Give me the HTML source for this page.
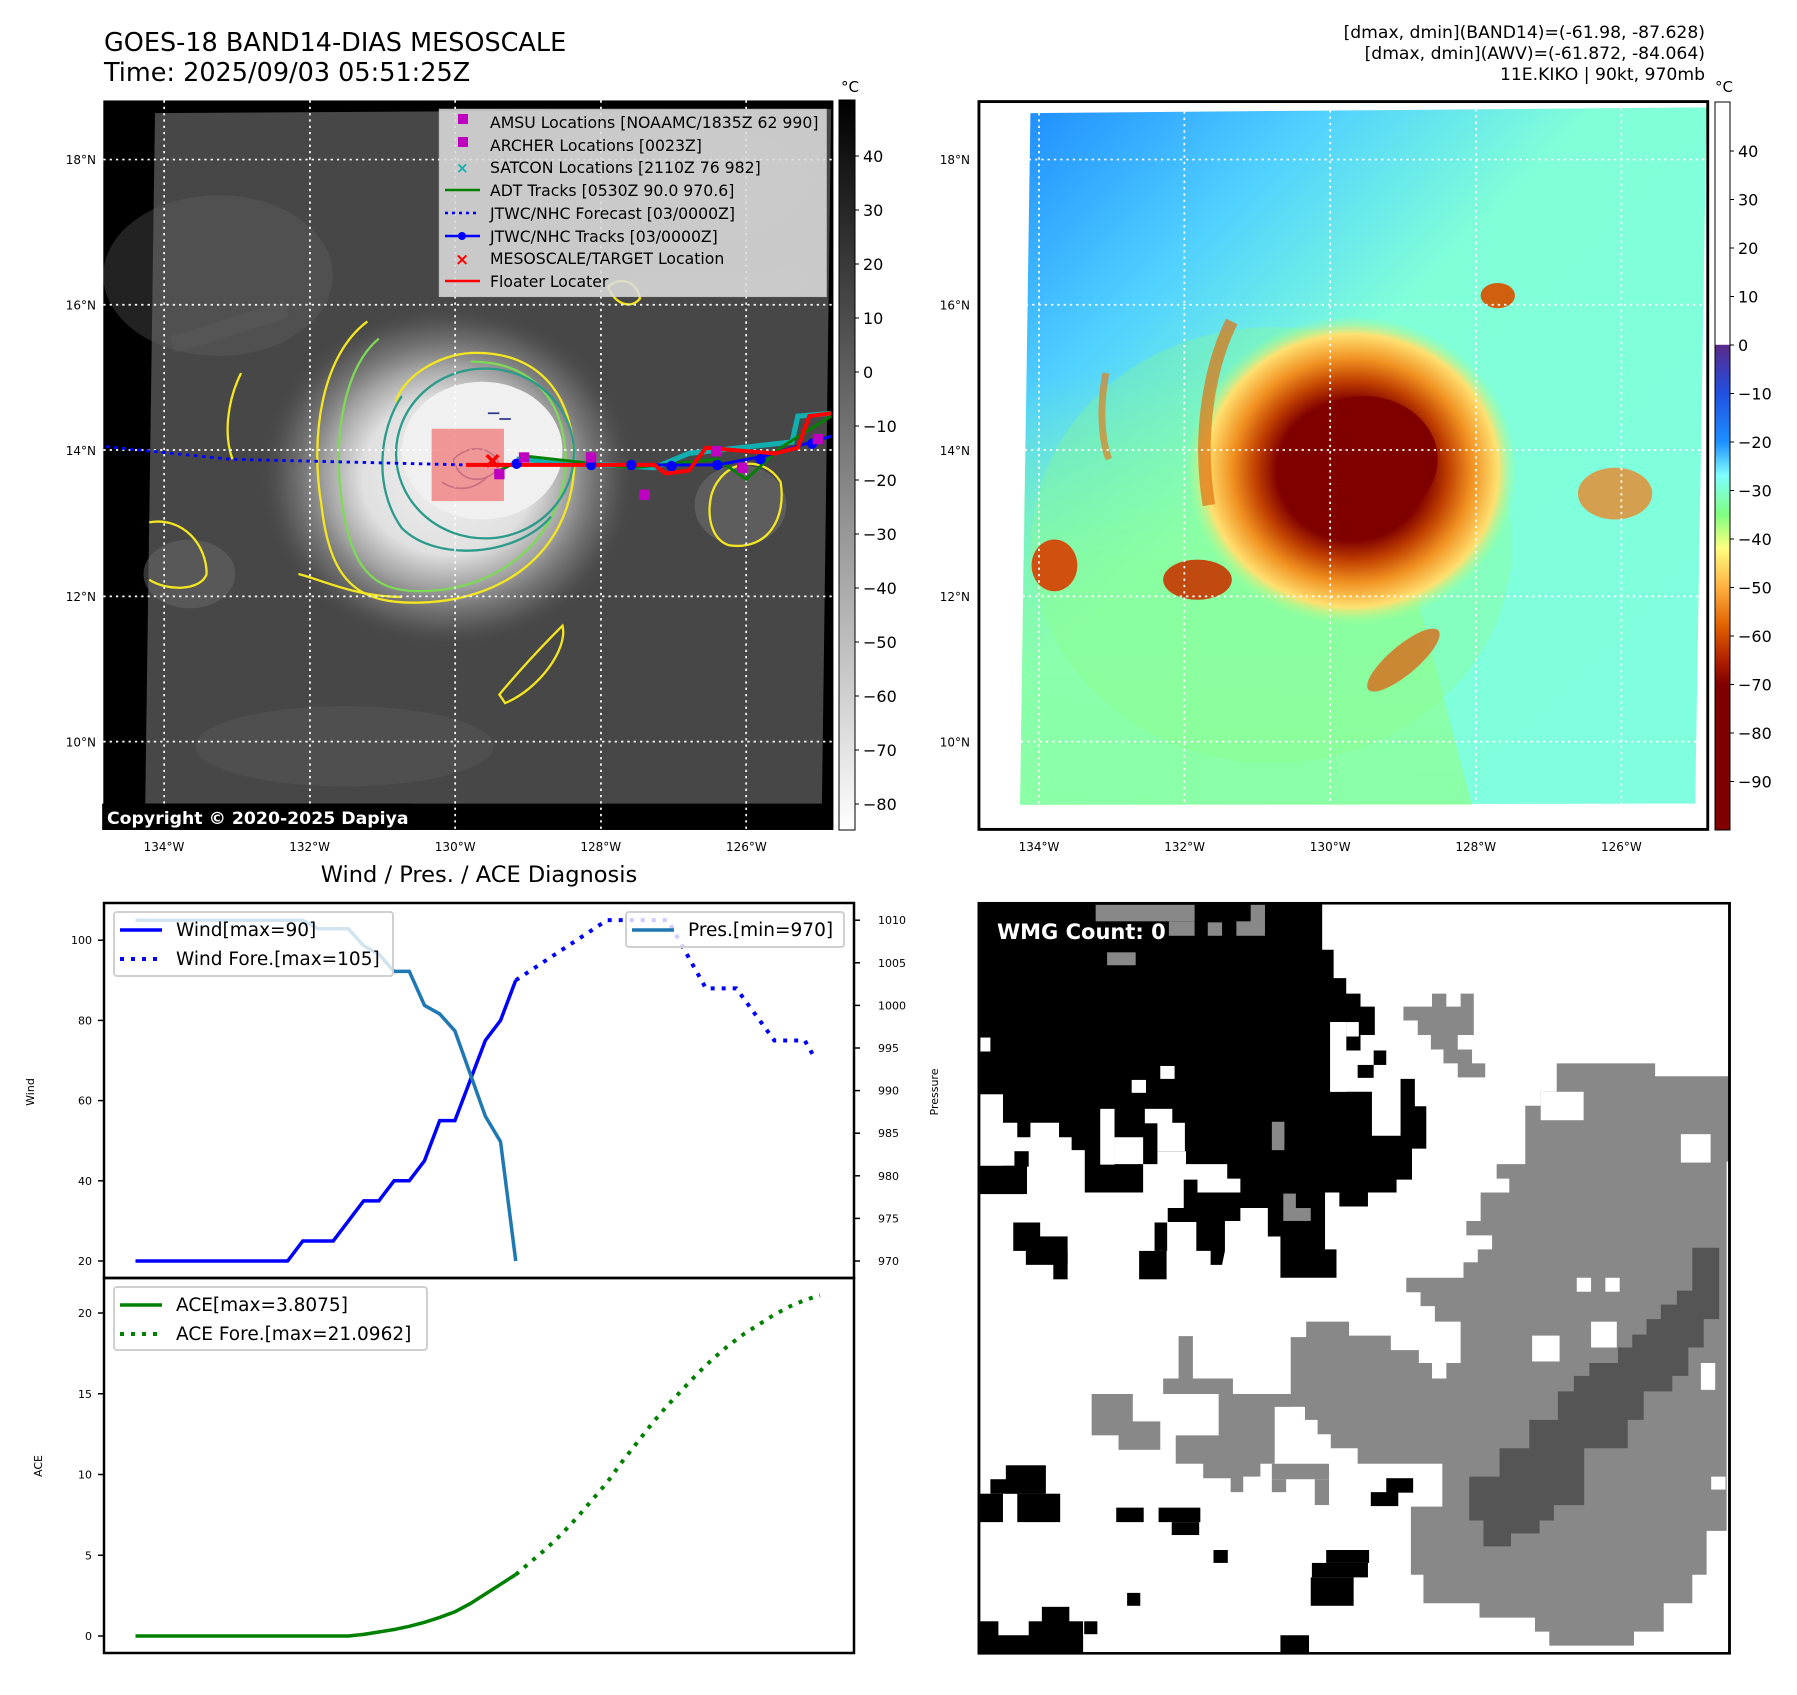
<!DOCTYPE html>
<html><head><meta charset="utf-8"><style>
html,body{margin:0;padding:0;background:#fff;}
svg text{font-family:"DejaVu Sans","Liberation Sans",sans-serif;}
</style></head><body>
<svg id="fig" width="1797" height="1690" viewBox="0 0 1797 1690" xmlns="http://www.w3.org/2000/svg">
<defs>
<linearGradient id="cb1" x1="0" y1="0" x2="0" y2="1"><stop offset="0" stop-color="#000"/><stop offset="1" stop-color="#fff"/></linearGradient>
<linearGradient id="cb2" x1="0" y1="0" x2="0" y2="1">
<stop offset="0" stop-color="#fff"/><stop offset="0.333" stop-color="#fff"/><stop offset="0.334" stop-color="#5a2a8a"/>
<stop offset="0.4" stop-color="#2050e0"/><stop offset="0.467" stop-color="#1e90ff"/><stop offset="0.513" stop-color="#7fffff"/>
<stop offset="0.567" stop-color="#80ff80"/><stop offset="0.613" stop-color="#ffff80"/><stop offset="0.667" stop-color="#ffb040"/>
<stop offset="0.72" stop-color="#e06000"/><stop offset="0.767" stop-color="#b02000"/><stop offset="0.8" stop-color="#800000"/><stop offset="1" stop-color="#800000"/>
</linearGradient>
<radialGradient id="stormGray" cx="0.5" cy="0.5" r="0.5"><stop offset="0" stop-color="#f0f0f0"/><stop offset="0.45" stop-color="#e0e0e0"/><stop offset="0.65" stop-color="#a0a0a0"/><stop offset="0.85" stop-color="#707070" stop-opacity="0.6"/><stop offset="1" stop-color="#4a4a4a" stop-opacity="0"/></radialGradient>
<linearGradient id="bg2" x1="0" y1="0" x2="1" y2="1"><stop offset="0" stop-color="#1e8cff"/><stop offset="0.22" stop-color="#50d0ff"/><stop offset="0.42" stop-color="#80ffd8"/><stop offset="1" stop-color="#80ffe0"/></linearGradient>
<linearGradient id="bg2b" x1="0" y1="0" x2="0" y2="1"><stop offset="0" stop-color="#90ff90" stop-opacity="0"/><stop offset="0.45" stop-color="#90ff90" stop-opacity="0.55"/><stop offset="1" stop-color="#90ff90" stop-opacity="0.7"/></linearGradient>
<radialGradient id="storm2" cx="0.5" cy="0.5" r="0.5"><stop offset="0" stop-color="#800000"/><stop offset="0.45" stop-color="#800000"/><stop offset="0.58" stop-color="#c04000"/><stop offset="0.72" stop-color="#f09020"/><stop offset="0.88" stop-color="#ffe070"/><stop offset="1" stop-color="#a0ff90" stop-opacity="0"/></radialGradient>
</defs>

<!-- ===== Map 1 (grayscale IR) ===== -->
<text x="104" y="51" font-size="25.5" fill="#000">GOES-18 BAND14-DIAS MESOSCALE</text>
<text x="104" y="81" font-size="25.5" fill="#000">Time: 2025/09/03 05:51:25Z</text>
<svg x="0" y="0" width="900" height="900" viewBox="0 0 1568 1568" preserveAspectRatio="none">
<rect x="180" y="175" width="1272" height="1271" fill="#000"/>
<polygon points="270,197 1448,190 1432,1400 253,1400" fill="#474747"/>
<ellipse cx="380" cy="480" rx="200" ry="140" fill="#606060" opacity="0.35"/>
<ellipse cx="1150" cy="320" rx="260" ry="110" fill="#5a5a5a" opacity="0.35"/>
<ellipse cx="330" cy="1000" rx="80" ry="60" fill="#6a6a6a" opacity="0.5"/>
<ellipse cx="1290" cy="880" rx="80" ry="70" fill="#707070" opacity="0.55"/>
<ellipse cx="780" cy="830" rx="330" ry="300" fill="url(#stormGray)"/>
<ellipse cx="840" cy="785" rx="140" ry="120" fill="#f0f0f0"/>
<ellipse cx="600" cy="1300" rx="260" ry="70" fill="#5c5c5c" opacity="0.4"/>
<path d="M300,600 C380,580 420,560 500,540" stroke="#5a5a5a" stroke-width="30" fill="none" opacity="0.5"/>
<path d="M1100,500 C1200,480 1300,520 1400,480" stroke="#585858" stroke-width="40" fill="none" opacity="0.5"/>
<g fill="none" stroke-width="4">
<path d="M640,560 C560,620 540,760 560,880 C575,1010 620,1050 720,1050 C880,1050 990,960 1000,820 C1005,690 940,610 820,615 C760,618 700,660 690,700" stroke="#f4e620"/>
<path d="M420,650 C395,700 390,760 405,800" stroke="#f4e620"/>
<path d="M260,910 C320,900 360,950 360,1000 C350,1030 290,1030 260,1010" stroke="#f4e620"/>
<path d="M870,1210 C920,1150 960,1110 980,1090 C990,1130 940,1200 880,1225 Z" stroke="#f4e620"/>
<path d="M1240,860 C1260,800 1330,790 1360,840 C1370,900 1340,960 1270,950 C1240,940 1230,900 1240,860 Z" stroke="#f4e620"/>
<path d="M1060,500 C1080,480 1110,490 1115,520 C1100,540 1070,530 1060,500 Z" stroke="#f4e620"/>
<path d="M520,1000 C560,1010 620,1040 700,1040" stroke="#f4e620"/>
<path d="M660,590 C600,640 580,760 595,870 C610,990 650,1030 730,1030 C860,1030 970,950 985,820 C990,700 930,630 820,630" stroke="#7ed957"/>
<ellipse cx="845" cy="790" rx="155" ry="148" stroke="#2a9a8a"/>
<path d="M700,690 C660,750 650,850 700,920 C760,980 900,970 960,900" stroke="#2a9a8a"/>
<path d="M790,800 C820,770 860,780 870,810 C860,840 800,850 790,800 Z" stroke="#2a3a8a" stroke-width="3"/>
<path d="M850,720 l20,0 M870,730 l20,0 M770,840 C800,860 830,850 850,830" stroke="#2a3a8a" stroke-width="3"/>
</g>
<g stroke="#fff" stroke-width="3" stroke-dasharray="4,7" fill="none">
<line x1="286" y1="175" x2="286" y2="1446"/><line x1="540" y1="175" x2="540" y2="1446"/><line x1="793" y1="175" x2="793" y2="1446"/><line x1="1047" y1="175" x2="1047" y2="1446"/><line x1="1300" y1="175" x2="1300" y2="1446"/>
<line x1="180" y1="278" x2="1452" y2="278"/><line x1="180" y1="531" x2="1452" y2="531"/><line x1="180" y1="784" x2="1452" y2="784"/><line x1="180" y1="1039" x2="1452" y2="1039"/><line x1="180" y1="1292" x2="1452" y2="1292"/>
</g>
<rect x="752" y="747" width="126" height="126" fill="#f08080" opacity="0.8"/>
<polyline points="185,778 400,800 812,810" fill="none" stroke="#0000ff" stroke-width="5" stroke-dasharray="6,8"/>
<polyline points="900,800 1140,815 1200,790 1380,770 1390,725 1448,720" fill="none" stroke="#10b0b0" stroke-width="9"/>
<polyline points="870,820 920,795 1100,815 1250,800 1300,835 1360,780 1448,725" fill="none" stroke="#008000" stroke-width="5"/>
<polyline points="870,810 1030,810 1250,810 1330,795 1448,760" fill="none" stroke="#0000ff" stroke-width="5"/>
<polyline points="812,810 1140,810 1160,825 1200,820 1230,780 1350,790 1390,780 1410,725 1448,720" fill="none" stroke="#ff0000" stroke-width="7"/>
<g fill="#0000ff"><circle cx="900" cy="808" r="9"/><circle cx="1030" cy="810" r="9"/><circle cx="1100" cy="810" r="9"/><circle cx="1170" cy="812" r="9"/><circle cx="1250" cy="810" r="9"/><circle cx="1325" cy="800" r="9"/><circle cx="1415" cy="773" r="9"/></g>
<g fill="#c000c0"><rect x="1021" y="788" width="18" height="18"/><rect x="1114" y="853" width="18" height="18"/><rect x="861" y="817" width="18" height="18"/><rect x="1239" y="777" width="18" height="18"/><rect x="1284" y="806" width="18" height="18"/><rect x="1416" y="756" width="18" height="18"/><rect x="904" y="788" width="18" height="18"/></g>
<path d="M848,793 l20,20 M868,793 l-20,20" stroke="#ff0000" stroke-width="6"/>
<rect x="765" y="190" width="675" height="327" fill="#dcdcdc" opacity="0.88" stroke="#ccc"/>
<rect x="178" y="1400" width="540" height="46" fill="#000"/>
</svg>
<g font-size="15.7" fill="#000">
<rect x="458" y="114" width="10" height="10" fill="#c000c0"/><text x="490" y="128">AMSU Locations [NOAAMC/1835Z 62 990]</text>
<rect x="458" y="137" width="10" height="10" fill="#c000c0"/><text x="490" y="151">ARCHER Locations [0023Z]</text>
<text x="456" y="173" fill="#10b0b0" font-size="15" font-weight="bold">×</text><text x="490" y="173">SATCON Locations [2110Z 76 982]</text>
<line x1="445" y1="190" x2="480" y2="190" stroke="#008000" stroke-width="2.5"/><text x="490" y="196">ADT Tracks [0530Z 90.0 970.6]</text>
<line x1="445" y1="213" x2="480" y2="213" stroke="#0000ff" stroke-width="2.5" stroke-dasharray="3,4"/><text x="490" y="219">JTWC/NHC Forecast [03/0000Z]</text>
<line x1="445" y1="236" x2="480" y2="236" stroke="#0000ff" stroke-width="2.5"/><circle cx="462" cy="236" r="4" fill="#0000ff"/><text x="490" y="242">JTWC/NHC Tracks [03/0000Z]</text>
<text x="455" y="265" fill="#ff0000" font-size="17" font-weight="bold">×</text><text x="490" y="264">MESOSCALE/TARGET Location</text>
<line x1="445" y1="281" x2="480" y2="281" stroke="#ff0000" stroke-width="2.5"/><text x="490" y="287">Floater Locater</text>
</g>
<text x="107" y="824" font-size="17.3" font-weight="bold" fill="#fff">Copyright © 2020-2025 Dapiya</text>
<rect x="839" y="100" width="16" height="730" fill="url(#cb1)" stroke="#000" stroke-width="1"/>
<text x="850" y="92" font-size="15" text-anchor="middle">°C</text>
<g id="cb1labels" font-size="16" fill="#000"></g>
<g id="map1ticks" font-size="12" fill="#000"></g>

<!-- ===== Map 2 (color) ===== -->
<g font-size="17.2" fill="#000" text-anchor="end">
<text x="1705" y="38">[dmax, dmin](BAND14)=(-61.98, -87.628)</text>
<text x="1705" y="59">[dmax, dmin](AWV)=(-61.872, -84.064)</text>
<text x="1705" y="80">11E.KIKO | 90kt, 970mb</text>
</g>
<svg x="900" y="0" width="897" height="900" viewBox="0 0 1568 1568" preserveAspectRatio="none">
<rect x="138" y="177" width="1274" height="1268" fill="#fff"/>
<polygon points="228,197 1410,187 1390,1400 210,1402" fill="url(#bg2)"/>
<polygon points="220,650 800,650 1000,1402 210,1402" fill="url(#bg2b)"/>
<ellipse cx="650" cy="950" rx="420" ry="380" fill="#90ff80" opacity="0.3"/>
<ellipse cx="790" cy="820" rx="290" ry="270" fill="url(#storm2)"/>
<ellipse cx="810" cy="800" rx="130" ry="110" fill="#800000"/>
<ellipse cx="520" cy="1010" rx="60" ry="35" fill="#c04a10"/>
<ellipse cx="270" cy="985" rx="40" ry="45" fill="#d05010"/>
<ellipse cx="1250" cy="860" rx="65" ry="45" fill="#f08020" opacity="0.75"/>
<ellipse cx="1045" cy="515" rx="30" ry="22" fill="#d06010"/>
<ellipse cx="880" cy="1150" rx="80" ry="25" fill="#e06010" opacity="0.75" transform="rotate(-40 880 1150)"/>
<path d="M580,560 C540,640 520,760 540,880" stroke="#e07010" stroke-width="22" fill="none" opacity="0.7"/>
<path d="M360,650 C350,700 350,760 365,800" stroke="#e08020" stroke-width="12" fill="none" opacity="0.7"/>
<g stroke="#fff" stroke-width="3" stroke-dasharray="4,7" fill="none">
<line x1="243" y1="197" x2="243" y2="1402"/><line x1="497" y1="194" x2="497" y2="1402"/><line x1="752" y1="192" x2="752" y2="1402"/><line x1="1007" y1="190" x2="1007" y2="1402"/><line x1="1261" y1="188" x2="1261" y2="1402"/>
<line x1="225" y1="278" x2="1410" y2="278"/><line x1="220" y1="531" x2="1405" y2="531"/><line x1="218" y1="784" x2="1402" y2="784"/><line x1="214" y1="1039" x2="1398" y2="1039"/><line x1="211" y1="1292" x2="1394" y2="1292"/>
</g>
<rect x="138" y="177" width="1274" height="1268" fill="none" stroke="#000" stroke-width="5"/>
</svg>
<rect x="1715" y="102" width="15" height="728" fill="url(#cb2)" stroke="#000" stroke-width="1"/>
<text x="1724" y="92" font-size="15" text-anchor="middle">°C</text>
<g id="cb2labels" font-size="16" fill="#000"></g>
<g id="map2ticks" font-size="12" fill="#000"></g>

<!-- ===== Diagnosis charts ===== -->
<text x="479" y="882" font-size="22.5" text-anchor="middle">Wind / Pres. / ACE Diagnosis</text>
<g id="chart"></g>

<!-- ===== WMG ===== -->
<svg x="900" y="880" width="897" height="810" viewBox="0 0 1568 1568" preserveAspectRatio="none">
<rect x="138" y="45" width="1312" height="1452" fill="#fff"/>
<g fill="#888">
<polygon points="1148,355 1320,355 1320,380 1445,380 1445,1260 1410,1260 1410,1345 1385,1345 1385,1400 1335,1400 1335,1455 1283,1455 1283,1482 1135,1482 1135,1455 1110,1455 1110,1428 1013,1428 1013,1400 915,1400 915,1345 893,1345 893,1213 948,1213 948,1130 800,1130 800,1100 753,1100 753,1073 730,1073 730,1045 705,1045 705,1020 655,1020 655,1130 630,1130 630,1155 600,1155 600,1185 578,1185 578,1158 530,1158 530,1130 482,1130 482,1075 557,1075 557,995 683,995 683,885 710,885 710,855 785,855 785,882 858,882 858,910 907,910 907,935 980,935 980,855 935,855 935,825 910,825 910,798 885,798 885,770 985,770 985,740 1010,740 1010,715 1035,715 1035,688 990,688 990,660 1015,660 1015,605 1065,605 1065,578 1043,578 1043,550 1093,550 1093,437 1120,437 1120,410 1148,410"/>
<rect x="460" y="965" width="122" height="30"/><rect x="487" y="883" width="25" height="82"/>
<rect x="335" y="995" width="72" height="80"/><rect x="382" y="1048" width="73" height="55"/>
<polygon points="880,245 930,245 930,220 955,220 955,245 980,245 980,220 1003,220 1003,300 975,300 975,328 1000,328 1000,355 1023,355 1023,382 975,382 975,355 950,355 950,328 928,328 928,300 905,300 905,272 880,272"/>
<rect x="650" y="1130" width="100" height="30"/><rect x="725" y="1160" width="25" height="50"/><rect x="650" y="1160" width="25" height="25"/>
<rect x="1440" y="380" width="10" height="165"/>
</g>
<g fill="#fff"><rect x="1183" y="770" width="25" height="27"/><rect x="1233" y="770" width="25" height="27"/><rect x="1208" y="855" width="45" height="50"/><rect x="1105" y="882" width="48" height="50"/><rect x="1400" y="935" width="25" height="52"/><rect x="1365" y="492" width="52" height="55"/><rect x="1120" y="410" width="75" height="55"/><rect x="1418" y="1155" width="25" height="25"/><rect x="930" y="935" width="25" height="30"/><rect x="683" y="1020" width="25" height="25"/></g>
<polygon fill="#555" points="1385,712 1432,712 1432,850 1405,850 1405,905 1378,905 1378,960 1350,960 1350,990 1300,990 1300,1045 1272,1045 1272,1100 1196,1100 1196,1210 1143,1210 1143,1240 1118,1240 1118,1265 1068,1265 1068,1290 1020,1290 1020,1240 995,1240 995,1155 1048,1155 1048,1100 1100,1100 1100,1045 1150,1045 1150,990 1178,990 1178,960 1205,960 1205,935 1255,935 1255,905 1280,905 1280,880 1305,880 1305,850 1330,850 1330,822 1358,822 1358,795 1385,795"/>
<g fill="#000">
<polygon points="140,45 738,45 738,135 758,135 758,190 780,190 780,220 805,220 805,245 830,245 830,300 805,300 805,330 780,330 780,275 752,275 752,410 825,410 825,495 875,495 875,385 900,385 900,438 920,438 920,520 895,520 895,580 868,580 868,605 818,605 818,632 768,632 768,605 743,605 743,715 763,715 763,770 665,770 665,690 643,690 643,635 595,635 595,660 568,660 568,718 563,745 543,745 543,718 518,718 518,662 468,662 468,635 496,635 496,580 520,580 520,605 595,605 595,578 572,578 572,550 500,550 500,525 450,525 450,550 425,550 425,605 323,605 323,523 300,523 300,498 278,498 278,470 228,470 228,498 205,498 205,470 180,470 180,415 140,415"/>
<rect x="140" y="553" width="82" height="55"/><rect x="200" y="525" width="25" height="30"/>
<rect x="828" y="330" width="22" height="28"/><rect x="800" y="358" width="28" height="25"/>
<rect x="198" y="663" width="47" height="55"/><rect x="220" y="690" width="73" height="55"/><rect x="268" y="718" width="25" height="55"/>
<rect x="418" y="718" width="48" height="55"/><rect x="445" y="663" width="22" height="55"/>
<rect x="185" y="1133" width="70" height="55"/><rect x="158" y="1160" width="95" height="28"/><rect x="140" y="1188" width="40" height="55"/><rect x="205" y="1188" width="75" height="55"/>
<rect x="378" y="1215" width="48" height="28"/><rect x="452" y="1215" width="73" height="28"/><rect x="475" y="1243" width="48" height="25"/>
<rect x="850" y="1158" width="47" height="28"/><rect x="823" y="1185" width="48" height="27"/><rect x="548" y="1297" width="25" height="25"/>
<rect x="745" y="1297" width="75" height="25"/><rect x="720" y="1322" width="98" height="28"/><rect x="718" y="1350" width="75" height="55"/>
<rect x="397" y="1380" width="23" height="25"/><rect x="248" y="1407" width="48" height="30"/><rect x="225" y="1435" width="95" height="62"/><rect x="140" y="1435" width="32" height="62"/><rect x="140" y="1462" width="180" height="35"/><rect x="322" y="1435" width="23" height="25"/><rect x="665" y="1462" width="50" height="35"/>
</g>
<g fill="#888"><rect x="342" y="48" width="173" height="32"/><rect x="470" y="80" width="45" height="28"/><rect x="362" y="140" width="50" height="25"/><rect x="538" y="82" width="25" height="26"/><rect x="588" y="80" width="50" height="28"/><rect x="613" y="48" width="25" height="35"/><rect x="650" y="468" width="22" height="55"/><rect x="670" y="607" width="22" height="30"/><rect x="670" y="635" width="48" height="25"/></g>
<g fill="#fff"><rect x="140" y="305" width="18" height="27"/><rect x="455" y="360" width="25" height="25"/><rect x="405" y="387" width="25" height="25"/><rect x="140" y="415" width="40" height="138"/><rect x="350" y="443" width="25" height="108"/><rect x="428" y="443" width="48" height="28"/><rect x="450" y="470" width="48" height="55"/><rect x="375" y="498" width="50" height="52"/><rect x="780" y="275" width="22" height="28"/><rect x="752" y="275" width="28" height="135"/></g>
<rect x="138" y="45" width="1312" height="1452" fill="none" stroke="#000" stroke-width="5"/>
</svg>
<text x="997" y="939" font-size="21" font-weight="bold" fill="#fff">WMG Count: 0</text>
</svg>

<script>
// ---- Diagnosis chart data (6-hourly steps) ----
const obsIndex = [0,1,2,3,4,5,6,7,8,9,10,11,12,13,14,15,16,17,18,19,20,21,22,23,24,25];
const windObs = [20,20,20,20,20,20,20,20,20,20,20,25,25,25,30,35,35,40,40,45,55,55,65,75,80,90];
const presObs = [1010,1010,1010,1010,1010,1010,1010,1010,1010,1010,1010,1010,1009,1009,1009,1007,1006,1004,1004,1000,999,997,992,987,984,970];
const aceObs = [0,0,0,0,0,0,0,0,0,0,0,0,0,0,0,0.1,0.25,0.4,0.6,0.85,1.15,1.5,2.0,2.6,3.2,3.8075];
const windForeIndex = [25,31,35,37.5,39.5,42,44,44.6];
const windFore = [90,105,105,88,88,75,75,71];
const aceForeIndex = [25,26,27,28,29,30,31,32,33,34,35,36,37,38,39,40,41,42,43,44,45];
const aceFore = [3.8,4.6,5.4,6.3,7.3,8.4,9.5,10.8,12.0,13.2,14.3,15.3,16.3,17.2,18.0,18.7,19.3,19.9,20.4,20.8,21.1];
const windTicks = [20,40,60,80,100];
const presTicks = [970,975,980,985,990,995,1000,1005,1010];
const aceTicks = [0,5,10,15,20];
const cb1Ticks = [40,30,20,10,0,-10,-20,-30,-40,-50,-60,-70,-80];
const cb2Ticks = [40,30,20,10,0,-10,-20,-30,-40,-50,-60,-70,-80,-90];
const lonTicks = [134,132,130,128,126];
const latTicks = [18,16,14,12,10];

const NS='http://www.w3.org/2000/svg';
function el(tag, attrs, parent){const e=document.createElementNS(NS,tag);for(const k in attrs)e.setAttribute(k,attrs[k]);parent.appendChild(e);return e;}
const X0=104,X1=854,TOP=903,MID=1278,BOT=1653;
const xS=i=>135.5+i*15.21;
const yW=v=>1261-(v-20)*4.01;
const yP=p=>1261-(p-970)*8.52;
const yA=v=>1636-v*16.15;
const chart=document.getElementById('chart');
function pts(xs,ys,fx,fy){return xs.map((x,i)=>fx(x)+','+fy(ys[i])).join(' ');}

let r=el('rect',{x:X0,y:TOP,width:X1-X0,height:MID-TOP,fill:'none',stroke:'#000','stroke-width':2.5},chart);


r=el('rect',{x:X0,y:MID,width:X1-X0,height:BOT-MID,fill:'none',stroke:'#000','stroke-width':2.5},chart);



windTicks.forEach(v=>{const y=yW(v);el('line',{x1:X0-6,y1:y,x2:X0,y2:y,stroke:'#000','stroke-width':1.5},chart);
 const t=el('text',{x:X0-12,y:y+4,'font-size':11,'text-anchor':'end'},chart);t.textContent=v;
 
 });
presTicks.forEach(v=>{const y=yP(v);el('line',{x1:X1,y1:y,x2:X1+6,y2:y,stroke:'#000','stroke-width':1.5},chart);
 const t=el('text',{x:X1+24,y:y+4,'font-size':11},chart);t.textContent=v;
 
 });
aceTicks.forEach(v=>{const y=yA(v);el('line',{x1:X0-6,y1:y,x2:X0,y2:y,stroke:'#000','stroke-width':1.5},chart);
 const t=el('text',{x:X0-12,y:y+4,'font-size':11,'text-anchor':'end'},chart);t.textContent=v;
 
 });
let t=el('text',{x:34,y:1092,'font-size':11,'text-anchor':'middle',transform:'rotate(-90 34 1092)'},chart);t.textContent='Wind';


t=el('text',{x:938,y:1092,'font-size':11,'text-anchor':'middle',transform:'rotate(-90 938 1092)'},chart);t.textContent='Pressure';


t=el('text',{x:42,y:1466,'font-size':11,'text-anchor':'middle',transform:'rotate(-90 42 1466)'},chart);t.textContent='ACE';



let p=el('polyline',{points:pts(obsIndex,windObs,xS,yW),fill:'none',stroke:'#0000ff','stroke-width':3.5},chart);


p=el('polyline',{points:pts(windForeIndex,windFore,xS,yW),fill:'none',stroke:'#0000ff','stroke-width':4,'stroke-dasharray':'4,7'},chart);


p=el('polyline',{points:pts(obsIndex,presObs,xS,yP),fill:'none',stroke:'#1f77b4','stroke-width':3.5},chart);


p=el('polyline',{points:pts(obsIndex,aceObs,xS,yA),fill:'none',stroke:'#008000','stroke-width':3.5},chart);


p=el('polyline',{points:pts(aceForeIndex,aceFore,xS,yA),fill:'none',stroke:'#008000','stroke-width':4,'stroke-dasharray':'4,7'},chart);



function legend(x,y,w,h,items,name){
 const g=el('g',{},chart);
 
 
 el('rect',{x:x,y:y,width:w,height:h,fill:'#fff','fill-opacity':0.8,stroke:'#d0d0d0','stroke-width':2,rx:3},g);
 items.forEach((it,i)=>{const cy=y+18+i*29;
  el('line',{x1:x+6,y1:cy,x2:x+48,y2:cy,stroke:it.c,'stroke-width':it.d?4:3.5,'stroke-dasharray':it.d?'4,7':'none'},g);
  const tx=el('text',{x:x+62,y:cy+6,'font-size':18.5},g);tx.textContent=it.t;});
}
legend(114,912,279,64,[{c:'#0000ff',t:'Wind[max=90]'},{c:'#0000ff',d:1,t:'Wind Fore.[max=105]'}],'wind-legend');
legend(626,912,218,35,[{c:'#1f77b4',t:'Pres.[min=970]'}],'pressure-legend');
legend(114,1287,313,63,[{c:'#008000',t:'ACE[max=3.8075]'},{c:'#008000',d:1,t:'ACE Fore.[max=21.0962]'}],'ace-legend');

const cb1=document.getElementById('cb1labels');
cb1Ticks.forEach(v=>{const y=156+(40-v)*5.4;el('line',{x1:855,y1:y,x2:859,y2:y,stroke:'#000'},cb1);
 const tt=el('text',{x:863,y:y+6},cb1);tt.textContent=v<0?'\u2212'+(-v):v;
 
 });
const cb2=document.getElementById('cb2labels');
cb2Ticks.forEach(v=>{const y=151+(40-v)*4.85;el('line',{x1:1730,y1:y,x2:1734,y2:y,stroke:'#000'},cb2);
 const tt=el('text',{x:1738,y:y+6},cb2);tt.textContent=v<0?'\u2212'+(-v):v;
 
 });

function mapTicks(id,lonX0,latRight){
 const g=document.getElementById(id);
 lonTicks.forEach((lon,i)=>{const tt=el('text',{x:lonX0+i*145.6,y:851,'text-anchor':'middle'},g);tt.textContent=lon+'°W';
  
  });
 latTicks.forEach((lat,i)=>{const tt=el('text',{x:latRight,y:164+i*145.6,'text-anchor':'end'},g);tt.textContent=lat+'°N';
  
  });
}
mapTicks('map1ticks',164,96);
mapTicks('map2ticks',1039,970);
</script>
</body></html>
